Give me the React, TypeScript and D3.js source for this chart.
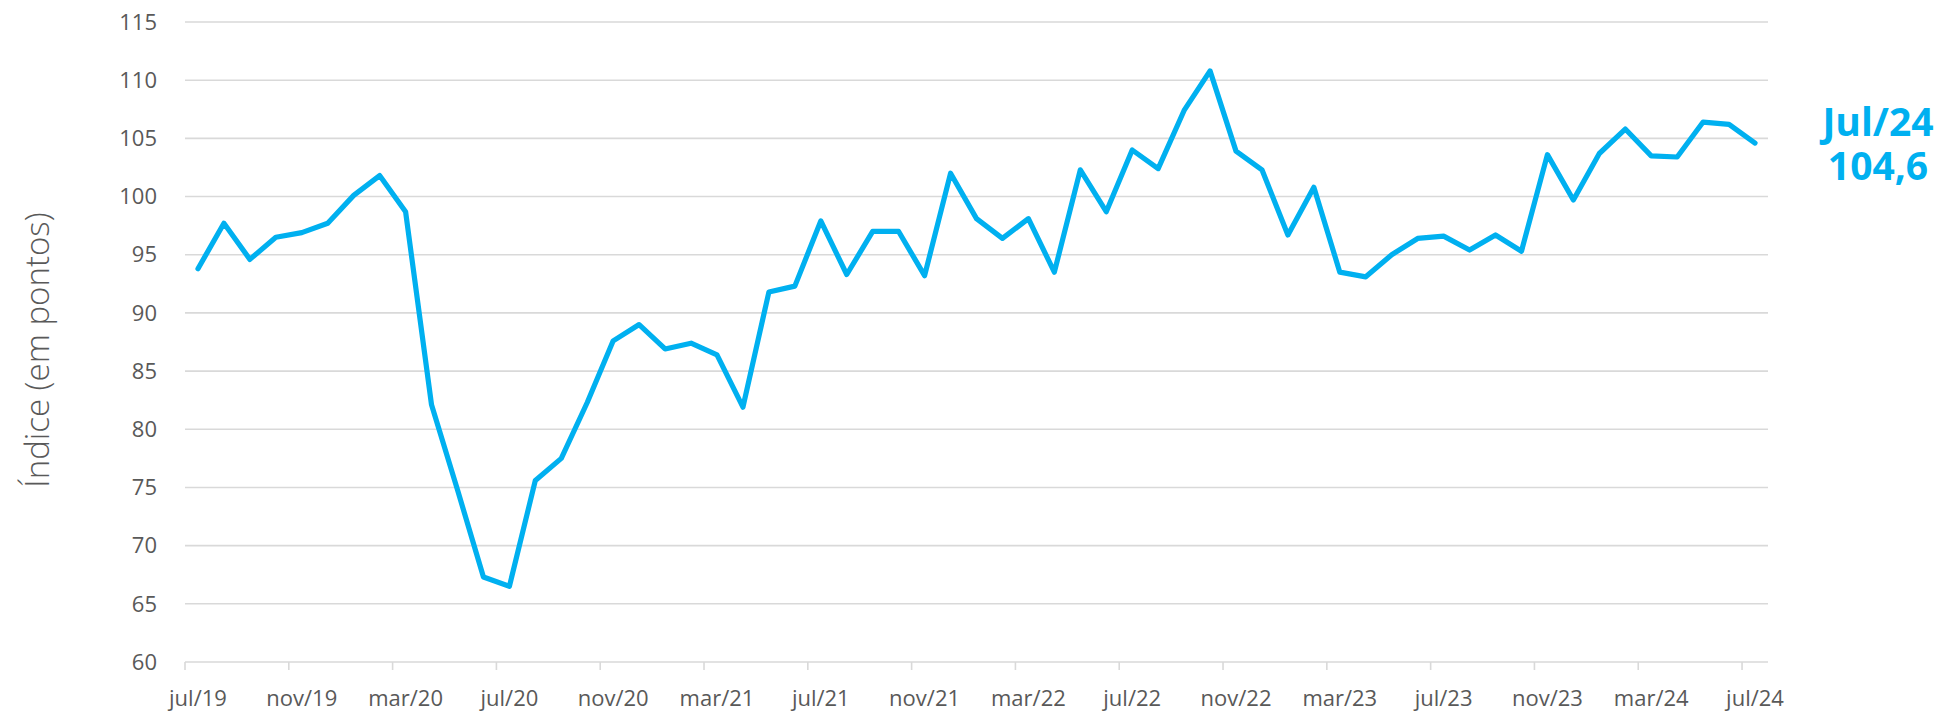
import React from "react";
import * as d3 from "d3";

const categories: string[] = [
  "jul/19","ago/19","set/19","out/19","nov/19","dez/19",
  "jan/20","fev/20","mar/20","abr/20","mai/20","jun/20","jul/20","ago/20","set/20","out/20","nov/20","dez/20",
  "jan/21","fev/21","mar/21","abr/21","mai/21","jun/21","jul/21","ago/21","set/21","out/21","nov/21","dez/21",
  "jan/22","fev/22","mar/22","abr/22","mai/22","jun/22","jul/22","ago/22","set/22","out/22","nov/22","dez/22",
  "jan/23","fev/23","mar/23","abr/23","mai/23","jun/23","jul/23","ago/23","set/23","out/23","nov/23","dez/23",
  "jan/24","fev/24","mar/24","abr/24","mai/24","jun/24","jul/24",
];

const values: number[] = [
  93.8, 97.7, 94.6, 96.5, 96.9, 97.7,
  100.1, 101.8, 98.7, 82.1, 74.8, 67.3, 66.5, 75.6, 77.5, 82.3, 87.6, 89.0,
  86.9, 87.4, 86.4, 81.9, 91.8, 92.3, 97.9, 93.3, 97.0, 97.0, 93.2, 102.0,
  98.1, 96.4, 98.1, 93.5, 102.3, 98.7, 104.0, 102.4, 107.4, 110.8, 103.9, 102.3,
  96.7, 100.8, 93.5, 93.1, 95.0, 96.4, 96.6, 95.4, 96.7, 95.3, 103.6, 99.7,
  103.7, 105.8, 103.5, 103.4, 106.4, 106.2, 104.6,
];

const yTicks: number[] = [60, 65, 70, 75, 80, 85, 90, 95, 100, 105, 110, 115];
const yTitle = "Índice (em pontos)";
const annotationLines: string[] = ["Jul/24", "104,6"];

const W = 1942;
const H = 713;
const LINE = "#00B0F0";
const GRID = "#D9D9D9";
const TEXT = "#595959";

export default function App() {
  const x = d3.scaleBand<string>().domain(categories).range([185, 1768]).padding(0);
  const y = d3.scaleLinear().domain([60, 115]).range([662, 22]);
  const bw = x.bandwidth();
  const cx = (c: string) => (x(c) as number) + bw / 2;

  const line = d3
    .line<number>()
    .x((_, i) => cx(categories[i]))
    .y((v) => y(v));

  const tickCats = categories.filter((_, i) => i % 4 === 0);

  return (
    <svg
      width={W}
      height={H}
      style={{ position: "absolute", left: 0, top: 0, display: "block", background: "#fff" }}
    >
      {yTicks.map((t) => (
        <line key={"g" + t} x1={185} x2={1768} y1={y(t)} y2={y(t)} stroke={GRID} strokeWidth={1.6} />
      ))}
      {tickCats.map((c) => (
        <line key={"t" + c} x1={x(c) as number} x2={x(c) as number} y1={y(60)} y2={y(60) + 8} stroke={GRID} strokeWidth={1.6} />
      ))}
      {yTicks.map((t) => (
        <text
          key={"yl" + t}
          x={157}
          y={y(t)}
          dy="0.35em"
          textAnchor="end"
          fontFamily="'Open Sans', sans-serif"
          fontSize={22}
          fill={TEXT}
        >
          {t}
        </text>
      ))}
      {tickCats.map((c) => (
        <text
          key={"xl" + c}
          x={cx(c)}
          y={706}
          textAnchor="middle"
          fontFamily="'Open Sans', sans-serif"
          fontSize={22}
          fill={TEXT}
        >
          {c}
        </text>
      ))}
      <text
        transform={`translate(49, 350) rotate(-90)`}
        textAnchor="middle"
        fontFamily="'Open Sans', sans-serif"
        fontWeight={300}
        fontSize={33}
        fill={TEXT}
      >
        {yTitle}
      </text>
      <path
        d={line(values) as string}
        fill="none"
        stroke={LINE}
        strokeWidth={5.2}
        strokeLinejoin="round"
        strokeLinecap="round"
      />
      <text
        textAnchor="middle"
        fontFamily="'Open Sans', sans-serif"
        fontWeight={700}
        fontSize={39}
        fill={LINE}
      >
        {annotationLines.map((s, i) => (
          <tspan key={"a" + i} x={1878} y={136 + i * 44}>
            {s}
          </tspan>
        ))}
      </text>
    </svg>
  );
}
